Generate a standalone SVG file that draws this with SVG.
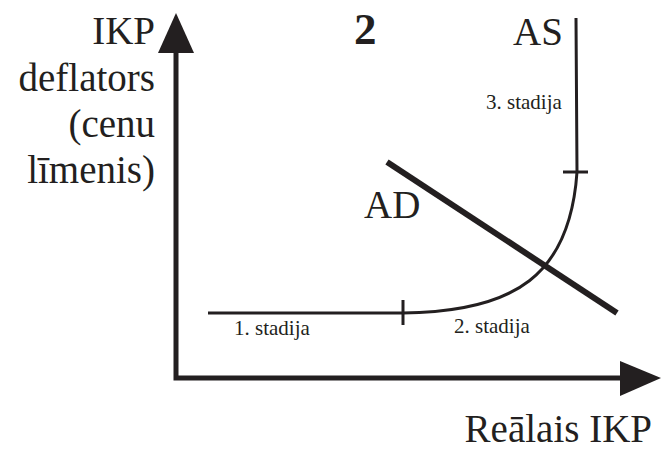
<svg xmlns="http://www.w3.org/2000/svg" width="665" height="449" viewBox="0 0 665 449">
<style>
.t{font-family:"Liberation Serif","Times New Roman",serif;fill:#231f20}
.big{font-size:39px}
.sm{font-size:21px}
.ax{stroke:#231f20;stroke-width:5;fill:none}
.cv{stroke:#231f20;stroke-width:3;fill:none}
</style>
<rect width="665" height="449" fill="#fff"/>
<g id="axes">
<path class="ax" d="M176,50 V378 H623"/>
<polygon points="176,13 158,53 194,53" fill="#231f20"/>
<polygon points="661,378 620,361 620,396" fill="#231f20"/>
</g>
<g id="y-label">
<text class="t big" text-anchor="end" x="155" y="44">IKP</text>
<text class="t big" text-anchor="end" x="155" y="91">deflators</text>
<text class="t big" text-anchor="end" x="155" y="137">(cenu</text>
<text class="t big" text-anchor="end" x="155" y="183">līmenis)</text>
</g>
<g id="x-label">
<text class="t big" text-anchor="end" x="652" y="442">Reālais IKP</text>
</g>
<g id="title"><text class="t" x="354" y="44" font-size="45" font-weight="bold">2</text></g>
<g id="AS">
<path class="cv" d="M208,313 H403 C515,312 570,275 577,172 L576,18"/>
<line class="cv" x1="403" y1="300" x2="403" y2="325"/>
<line class="cv" x1="563" y1="172" x2="588" y2="172"/>
<text class="t big" x="513" y="45">AS</text>
<text class="t sm" x="486" y="109">3. stadija</text>
<text class="t sm" x="234" y="335">1. stadija</text>
<text class="t sm" x="454" y="333">2. stadija</text>
</g>
<g id="AD">
<line x1="387" y1="162" x2="617" y2="313" stroke="#231f20" stroke-width="6"/>
<text class="t big" x="364" y="218">AD</text>
</g>
</svg>
